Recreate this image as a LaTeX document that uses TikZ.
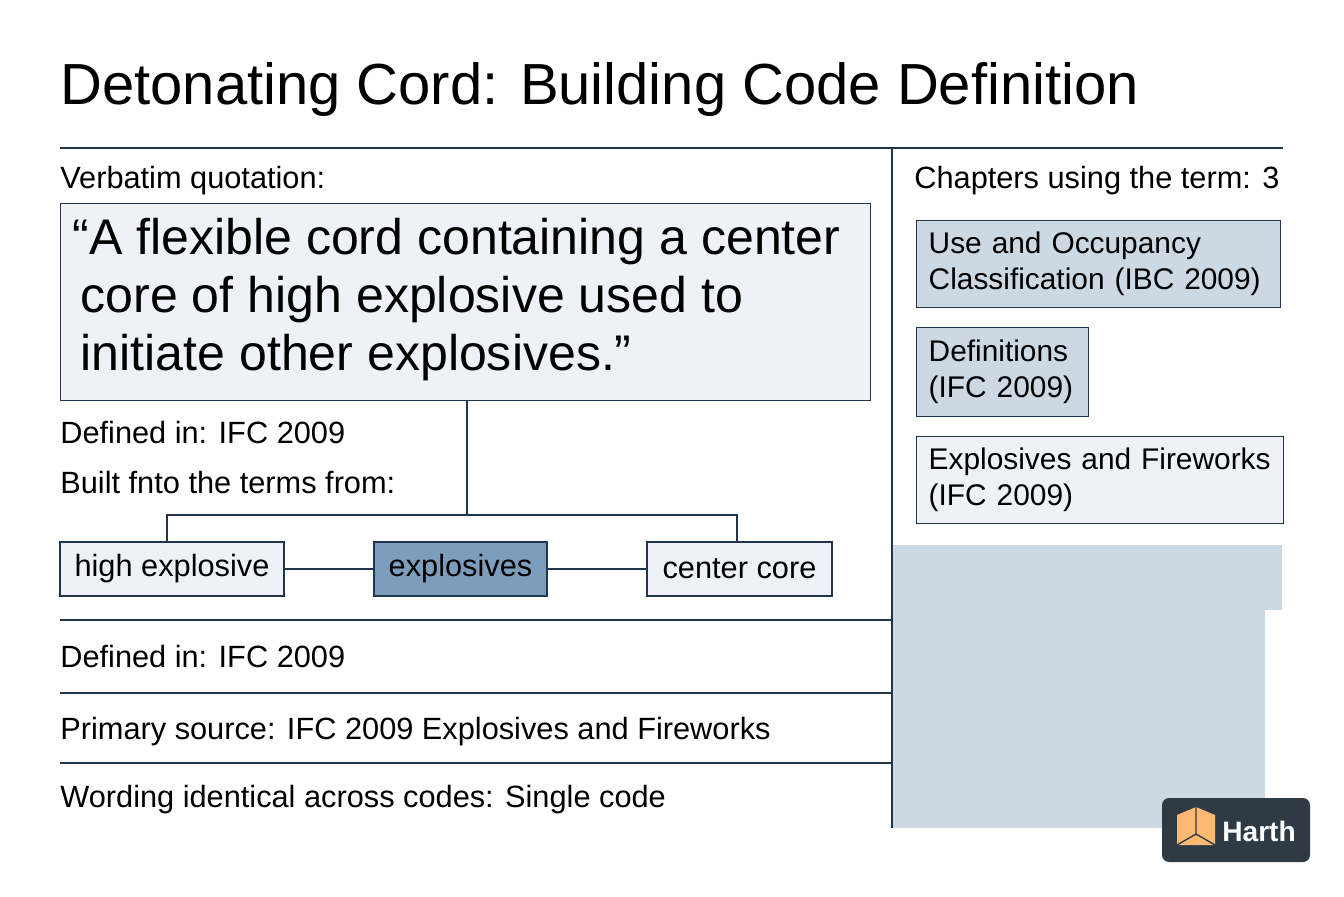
\documentclass[tikz,border=0pt]{standalone}
\usepackage{fontspec}
\setmainfont{Liberation Sans}
\usetikzlibrary{positioning}
\definecolor{ink}{HTML}{1F3550}
\definecolor{pale}{HTML}{EEF2F6}
\definecolor{mist}{HTML}{CCD8E2}
\definecolor{steel}{HTML}{7D9DBD}
\definecolor{slate}{HTML}{2E3A44}
\tikzset{
  txt/.style={anchor=west, inner sep=0pt, font=\fontsize{17.5}{20}\selectfont},
  term/.style={draw=ink, thick, fill=pale, inner sep=0pt, minimum height=1.08cm, font=\fontsize{17.5}{20}\selectfont},
  chap/.style={draw=ink, thick, anchor=north west, align=left, inner xsep=0.24cm, inner ysep=0.16cm, font=\fontsize{17}{20.5}\selectfont},
  rule/.style={ink, thick}
}
\begin{document}
\begin{tikzpicture}[x=0.02cm, y=-0.02cm]
    \useasboundingbox (0,0) rectangle (1344,896);
    % title
    \node[anchor=west, inner sep=0pt, font=\fontsize{33}{40}\selectfont] (title) at (60,90) {Detonating Cord: Building Code Definition};
    \draw[rule] (60,148) -- (1283,148);
    \draw[rule] (892,148) -- (892,828);
    % shaded panel
    \fill[mist] (893,545) -- (1282,545) -- (1282,610) -- (1265,610) -- (1265,828) -- (893,828) -- cycle;

    % quotation
    \node[txt] (verb) at (60,181) {Verbatim quotation:};
    \node[draw=ink, thick, fill=pale, anchor=north west, minimum width=16.2cm, minimum height=3.94cm, inner sep=0pt] (quote) at (60,203) {};
    \node[anchor=north west, align=left, inner sep=0pt, font=\fontsize{28.5}{33}\selectfont] (qtext) at (72,218) {“A flexible cord containing a center\\ \,core of high explosive used to\\ \,initiate other explosives.”};
    \node[txt] (def) at (60,433) {Defined in: IFC 2009};
    \node[txt] (built) at (60,483) {Built fnto the terms from:};

    % terms
    \node[term, minimum width=4.48cm] (hexp) at (172,569) {high explosive};
    \node[term, fill=steel, minimum width=3.46cm] (expl) at (460.5,569) {explosives};
    \node[term, minimum width=3.7cm] (core) at (739.5,569) {center core};
    \coordinate (hub) at (467,515);
    \draw[rule] (quote.south -| hub) -- (hub);
    \draw[rule] (hexp.north -| 167,0) -- (167,515) -- (737,515) -- (core.north -| 737,0);
    \draw[rule] (hexp) -- (expl);
    \draw[rule] (expl) -- (core);

    % rows
    \draw[rule] (60,620) -- (892,620);
    \node[txt] (def2) at (60,656) {Defined in: IFC 2009};
    \draw[rule] (60,693) -- (892,693);
    \node[txt] (prim) at (60,732) {Primary source: IFC 2009 Explosives and Fireworks};
    \draw[rule] (60,763) -- (892,763);
    \node[txt] (word) at (60,800) {Wording identical across codes: Single code};

    % chapters
    \node[txt] (chaps) at (914,181) {Chapters using the term: 3};
    \node[chap, fill=mist, text width=6.8cm, minimum height=1.74cm] (c1) at (916,220) {Use and Occupancy\\Classification (IBC 2009)};
    \node[chap, fill=mist, text width=2.96cm, minimum height=1.78cm] (c2) at (916,327) {Definitions\\(IFC 2009)};
    \node[chap, fill=pale, text width=6.86cm, minimum height=1.74cm] (c3) at (916,436) {Explosives and Fireworks\\(IFC 2009)};

    % logo
    \node[fill=slate, rounded corners=4pt, minimum width=2.96cm, minimum height=1.28cm, inner sep=0pt] (logo) at (1236,830) {};
    \fill[orange!55] (1177,815) -- (1196,807) -- (1215,815) -- (1215,845) -- (1177,845) -- cycle;
    \draw[slate, thick] (1196,807) -- (1196,834) -- (1177,845) (1196,834) -- (1215,845);
    \node[anchor=west, inner sep=0pt, text=white, font=\bfseries\fontsize{16}{19}\selectfont] (brand) at (1222,831) {Harth};
\end{tikzpicture}
\end{document}
